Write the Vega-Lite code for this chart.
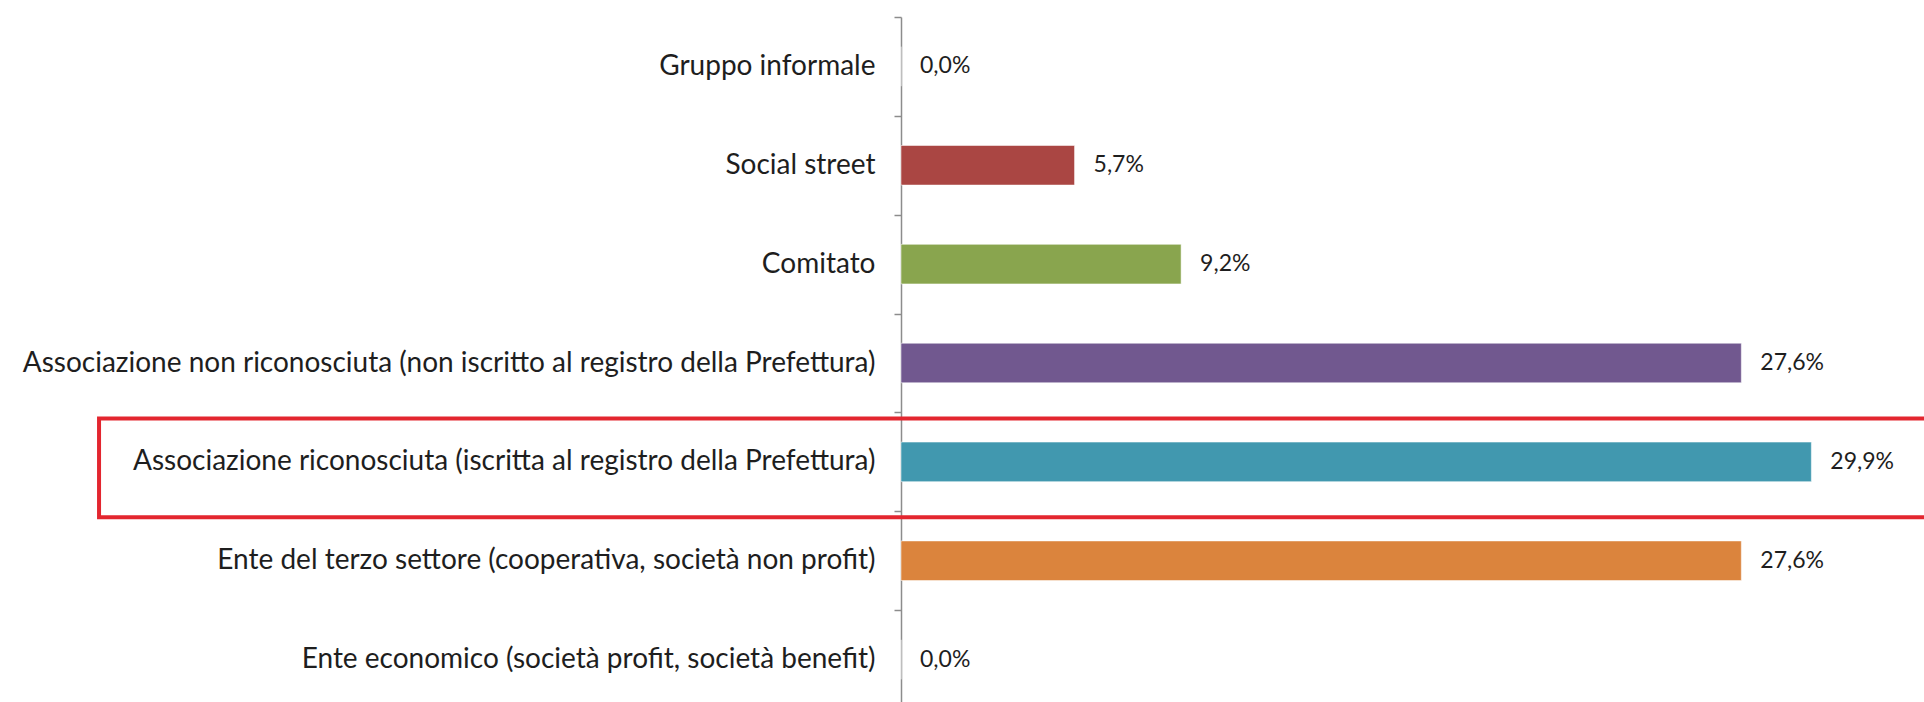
{
  "$schema": "https://vega.github.io/schema/vega-lite/v6.json",
  "autosize": "none",
  "width": 1023,
  "height": 692,
  "padding": {"left": 901, "top": 17, "right": 0, "bottom": 0},
  "background": "white",
  "config": {
    "view": {"stroke": null},
    "locale": {"number": {"decimal": ",", "thousands": ".", "grouping": [3], "currency": ["", " €"]}}
  },
  "data": {
    "values": [
      {"category": "Gruppo informale", "value": 0.0},
      {"category": "Social street", "value": 0.057},
      {"category": "Comitato", "value": 0.092},
      {"category": "Associazione non riconosciuta (non iscritto al registro della Prefettura)", "value": 0.276},
      {"category": "Associazione riconosciuta (iscritta al registro della Prefettura)", "value": 0.299},
      {"category": "Ente del terzo settore (cooperativa, società non profit)", "value": 0.276},
      {"category": "Ente economico (società profit, società benefit)", "value": 0.0}
    ]
  },
  "encoding": {
    "y": {
      "field": "category",
      "type": "nominal",
      "sort": null,
      "scale": {"paddingInner": 0, "paddingOuter": 0},
      "axis": {
        "title": null,
        "labelFont": "Lato",
        "labelFontSize": 28,
        "labelColor": "#1e1e1e",
        "labelPadding": 19,
        "labelLimit": 1000,
        "domainColor": "#8c8c8c",
        "domainWidth": 1.5,
        "tickColor": "#8c8c8c",
        "tickWidth": 1.5,
        "tickSize": 7,
        "tickBand": "extent"
      }
    }
  },
  "layer": [
    {
      "mark": {"type": "bar", "stroke": "#ffffff", "strokeOpacity": 0.5, "strokeWidth": 1, "height": {"band": 0.4}},
      "encoding": {
        "x": {"field": "value", "type": "quantitative", "scale": {"domain": [0, 0.336], "nice": false, "zero": true}, "axis": null},
        "color": {
          "field": "category",
          "type": "nominal",
          "sort": null,
          "legend": null,
          "scale": {
            "domain": [
              "Gruppo informale",
              "Social street",
              "Comitato",
              "Associazione non riconosciuta (non iscritto al registro della Prefettura)",
              "Associazione riconosciuta (iscritta al registro della Prefettura)",
              "Ente del terzo settore (cooperativa, società non profit)",
              "Ente economico (società profit, società benefit)"
            ],
            "range": ["#4572A7", "#AA4643", "#89A54E", "#71588F", "#4198AF", "#DB843D", "#93A9CF"]
          }
        }
      }
    },
    {
      "mark": {"type": "text", "align": "left", "baseline": "middle", "dx": 19, "font": "Lato", "fontSize": 23, "color": "#1e1e1e"},
      "encoding": {
        "x": {"field": "value", "type": "quantitative"},
        "text": {"field": "value", "type": "quantitative", "format": ".1%"}
      }
    },
    {
      "transform": [{"filter": "datum.category === 'Associazione riconosciuta (iscritta al registro della Prefettura)'"}],
      "mark": {"type": "bar", "filled": false, "fill": null, "stroke": "#E3262F", "strokeWidth": 4, "height": {"band": 1}, "yOffset": 6, "clip": false},
      "encoding": {
        "x": {"datum": -0.2634, "type": "quantitative"},
        "x2": {"datum": 0.4}
      }
    }
  ]
}
